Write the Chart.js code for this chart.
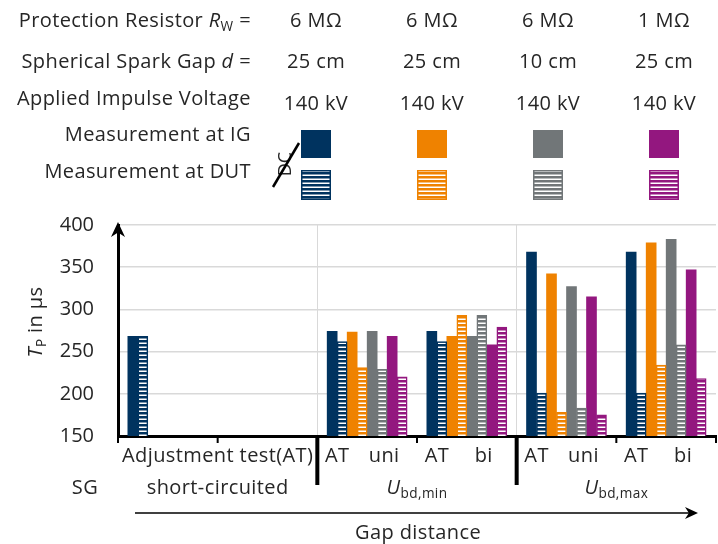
<!DOCTYPE html>
<html>
<head>
<meta charset="utf-8">
<title>Peak time Tp</title>
<script src="https://cdn.jsdelivr.net/npm/chart.js@4/dist/chart.umd.min.js"></script>
<style>
  html, body { margin: 0; padding: 0; background: #fff; }
  #chart { display: block; }
</style>
</head>
<body>
<canvas id="chart" width="718" height="544"></canvas>
<script>
// x axis: each category is one test sequence (AT followed by uni / bi)
const categories = ['Adjustment test(AT)', '', 'AT|uni', 'AT|bi', 'AT|uni', 'AT|bi'];
const sgStates = ['short-circuited', 'bd,min', 'bd,max'];
const yTicks = [150, 200, 250, 300, 350, 400];

// header table, one column per configuration
const resistors = ['6 MΩ', '6 MΩ', '6 MΩ', '1 MΩ'];
const gaps = ['25 cm', '25 cm', '10 cm', '25 cm'];
const voltages = ['140 kV', '140 kV', '140 kV', '140 kV'];
const colors = ['#00335f', '#ef8200', '#717678', '#93177f'];

// Tp in µs, measured at the impulse generator (IG) and at the device under test (DUT)
const igBlue    = [268, null, 274, 274, 368, 368];
const dutBlue   = [268, null, 262, 262, 201, 201];
const igOrange  = [null, null, 273, 268, 342, 379];
const dutOrange = [null, null, 231, 293, 178, 234];
const igGray    = [null, null, 274, 268, 327, 383];
const dutGray   = [null, null, 229, 293, 183, 258];
const igPurple  = [null, null, 268, 258, 315, 347];
const dutPurple = [null, null, 220, 279, 175, 218];

const FONT = '"Open Sans", Lato, sans-serif';
const TEXT = '#262626';
const SIZE = 20;

function stripes(color) {
    const c = document.createElement('canvas');
    c.width = 4;
    c.height = 4;
    const g = c.getContext('2d');
    g.fillStyle = '#fff';
    g.fillRect(0, 0, 4, 4);
    g.fillStyle = color;
    g.fillRect(0, 0, 4, 2.5);
    return g.createPattern(c, 'repeat');
}

function solidSet(label, data, color) {
    return { label, data, backgroundColor: color, borderWidth: 0 };
}
function stripedSet(label, data, color) {
    return { label, data, backgroundColor: stripes(color), borderColor: color, borderWidth: 1.5 };
}

// draws text made of parts: {t, i: italic, sub: subscript}
function richWidth(ctx, parts, size) {
    let w = 0;
    parts.forEach(p => {
        const s = p.sub ? size * 0.68 : size;
        ctx.font = (p.i ? 'italic ' : '') + s + 'px ' + FONT;
        w += ctx.measureText(p.t).width;
    });
    return w;
}
function drawRich(ctx, parts, x, y, size, align) {
    ctx.letterSpacing = '0.4px';
    const w = richWidth(ctx, parts, size);
    let cx = align === 'right' ? x - w : align === 'center' ? x - w / 2 : x;
    ctx.textBaseline = 'middle';
    ctx.textAlign = 'left';
    parts.forEach(p => {
        const s = p.sub ? size * 0.68 : size;
        ctx.font = (p.i ? 'italic ' : '') + s + 'px ' + FONT;
        ctx.fillText(p.t, cx, p.sub ? y + size * 0.3 : y);
        cx += ctx.measureText(p.t).width;
    });
    ctx.letterSpacing = '0px';
}

function arrowHead(ctx, x, y, dir, len, half) {
    ctx.beginPath();
    if (dir === 'up') {
        ctx.moveTo(x, y);
        ctx.lineTo(x - half, y + len);
        ctx.lineTo(x, y + len * 0.7);
        ctx.lineTo(x + half, y + len);
    } else {
        ctx.moveTo(x, y);
        ctx.lineTo(x - len, y - half);
        ctx.lineTo(x - len * 0.7, y);
        ctx.lineTo(x - len, y + half);
    }
    ctx.closePath();
    ctx.fill();
}

const annotations = {
    id: 'annotations',
    afterDraw(chart) {
        const ctx = chart.ctx;
        const xs = chart.scales.x;
        const area = chart.chartArea;
        const half = (xs.getPixelForValue(1) - xs.getPixelForValue(0)) / 2;
        const left = i => xs.getPixelForValue(i) - half;
        ctx.save();
        ctx.fillStyle = TEXT;

        // header table
        const colX = [316, 432, 548, 664];
        const labelX = 251;
        drawRich(ctx, [{ t: 'Protection Resistor ' }, { t: 'R', i: true }, { t: 'W', sub: true }, { t: ' =' }], labelX, 21, SIZE, 'right');
        drawRich(ctx, [{ t: 'Spherical Spark Gap ' }, { t: 'd', i: true }, { t: ' =' }], labelX, 62, SIZE, 'right');
        drawRich(ctx, [{ t: 'Applied Impulse Voltage' }], labelX, 99, SIZE, 'right');
        drawRich(ctx, [{ t: 'Measurement at IG' }], labelX, 135, SIZE, 'right');
        drawRich(ctx, [{ t: 'Measurement at DUT' }], labelX, 172, SIZE, 'right');
        colX.forEach((cx, k) => {
            drawRich(ctx, [{ t: resistors[k] }], cx, 21, SIZE, 'center');
            drawRich(ctx, [{ t: gaps[k] }], cx, 62, SIZE, 'center');
            drawRich(ctx, [{ t: voltages[k] }], cx, 104, SIZE, 'center');
            ctx.fillStyle = colors[k];
            ctx.fillRect(cx - 15, 130, 30, 28);
            ctx.fillStyle = stripes(colors[k]);
            ctx.fillRect(cx - 15, 170, 30, 30);
            ctx.strokeStyle = colors[k];
            ctx.lineWidth = 1.5;
            ctx.strokeRect(cx - 14.25, 170.75, 28.5, 28.5);
            ctx.fillStyle = TEXT;
        });

        // crossed-out DC mark
        ctx.save();
        ctx.translate(286, 164);
        ctx.rotate(-Math.PI / 2);
        ctx.font = '18px ' + FONT;
        ctx.textAlign = 'center';
        ctx.textBaseline = 'middle';
        ctx.fillText('DC', 0, 0);
        ctx.restore();
        ctx.strokeStyle = '#000';
        ctx.lineWidth = 2.5;
        ctx.beginPath();
        ctx.moveTo(273, 187);
        ctx.lineTo(299, 143);
        ctx.stroke();

        // y axis arrow and title
        ctx.fillStyle = '#000';
        arrowHead(ctx, area.left, area.top - 3, 'up', 15, 7);
        ctx.save();
        ctx.translate(36, 322);
        ctx.rotate(-Math.PI / 2);
        ctx.fillStyle = TEXT;
        drawRich(ctx, [{ t: 'T', i: true }, { t: 'P', sub: true }, { t: ' in µs' }], 0, 0, 20, 'center');
        ctx.restore();

        // tick marks and group separators under the x axis
        ctx.fillStyle = '#000';
        for (let i = 0; i <= categories.length; i++) {
            const x = left(i);
            if (i === 2 || i === 4) {
                ctx.fillRect(x - 2, area.bottom, 4, 49);
            } else {
                ctx.fillRect(x - 1, area.bottom, 2, 7);
            }
        }

        // category labels
        ctx.fillStyle = TEXT;
        const row1 = area.bottom + 20;
        drawRich(ctx, [{ t: categories[0] }], left(1), row1, SIZE, 'center');
        categories.forEach((c, i) => {
            if (i < 2) return;
            const [a, b] = c.split('|');
            const w = half * 2;
            drawRich(ctx, [{ t: a }], left(i) + w * 0.2, row1, SIZE, 'center');
            drawRich(ctx, [{ t: b }], left(i) + w * 0.67, row1, SIZE, 'center');
        });
        const row2 = area.bottom + 52;
        drawRich(ctx, [{ t: 'SG' }], 85, row2, SIZE, 'center');
        drawRich(ctx, [{ t: sgStates[0] }], left(1), row2, SIZE, 'center');
        drawRich(ctx, [{ t: 'U', i: true }, { t: sgStates[1], sub: true }], left(3), row2, SIZE, 'center');
        drawRich(ctx, [{ t: 'U', i: true }, { t: sgStates[2], sub: true }], left(5), row2, SIZE, 'center');

        // gap distance arrow
        ctx.strokeStyle = '#000';
        ctx.lineWidth = 1.5;
        ctx.beginPath();
        ctx.moveTo(135, 513);
        ctx.lineTo(692, 513);
        ctx.stroke();
        ctx.fillStyle = '#000';
        arrowHead(ctx, 698, 513, 'right', 13, 6);
        ctx.fillStyle = TEXT;
        drawRich(ctx, [{ t: 'Gap distance' }], 418, 533, SIZE, 'center');
        ctx.restore();
    }
};

new Chart(document.getElementById('chart'), {
    type: 'bar',
    data: {
        labels: categories,
        datasets: [
            solidSet('IG 6 MΩ 25 cm', igBlue, colors[0]),
            stripedSet('DUT 6 MΩ 25 cm', dutBlue, colors[0]),
            solidSet('IG 6 MΩ 25 cm', igOrange, colors[1]),
            stripedSet('DUT 6 MΩ 25 cm', dutOrange, colors[1]),
            solidSet('IG 6 MΩ 10 cm', igGray, colors[2]),
            stripedSet('DUT 6 MΩ 10 cm', dutGray, colors[2]),
            solidSet('IG 1 MΩ 25 cm', igPurple, colors[3]),
            stripedSet('DUT 1 MΩ 25 cm', dutPurple, colors[3])
        ]
    },
    options: {
        responsive: false,
        animation: false,
        barThickness: 10,
        layout: { padding: { top: 225, right: 2, left: 0, bottom: 0 } },
        plugins: {
            legend: { display: false },
            tooltip: { enabled: false }
        },
        scales: {
            x: {
                ticks: { display: false },
                grid: {
                    offset: true,
                    drawTicks: false,
                    color: c => (c.index === 2 || c.index === 4 || c.index === 6) ? '#d9d9d9' : 'rgba(0,0,0,0)'
                },
                border: { color: '#000', width: 3 },
                afterFit: s => { s.height = 108; }
            },
            y: {
                min: yTicks[0],
                max: yTicks[yTicks.length - 1],
                afterBuildTicks: s => { s.ticks = yTicks.map(v => ({ value: v })); },
                ticks: { padding: 24, color: TEXT, font: { family: FONT, size: SIZE } },
                grid: { drawTicks: false, color: '#d9d9d9', lineWidth: 1.5 },
                border: { color: '#000', width: 3 },
                afterFit: s => { s.width = 118; }
            }
        }
    },
    plugins: [annotations]
});
</script>
</body>
</html>
